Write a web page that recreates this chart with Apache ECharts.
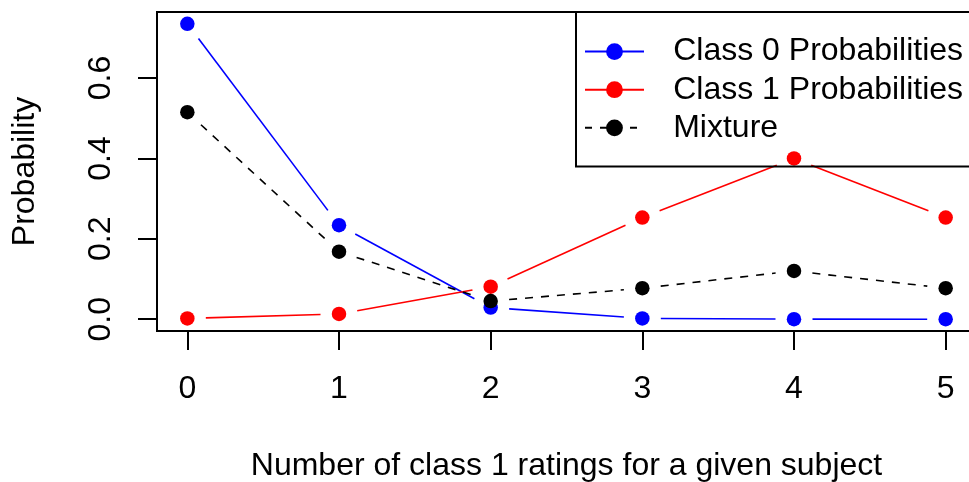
<!DOCTYPE html>
<html lang="en">

<head>
  <script src="https://cdn.jsdelivr.net/npm/echarts@6/dist/echarts.min.js"></script>
</head>

<body style="margin:0;background:#fff;">
  <div id="mixtureChart" style="width: 969px;height:482px;"></div>

  <script type="text/javascript">

    // number of class 1 ratings (x) and the three probability curves
    var ratings = [0, 1, 2, 3, 4, 5];
    var class0 = [0.735, 0.234, 0.029, 0.002, 0.0001, 0.0];
    var class1 = [0.002, 0.013, 0.081, 0.253, 0.400, 0.253];
    var mixture = [0.515, 0.168, 0.045, 0.077, 0.120, 0.077];
    var xTicks = [0, 1, 2, 3, 4, 5];
    var yTicks = [0, 0.2, 0.4, 0.6];

    var FONT = 'Liberation Sans';
    var FS = 32;
    var GAP = 18.5; // R type="b": lines stop short of the points

    function pairs(vals) {
        var out = [];
        for (var i = 0; i < ratings.length - 1; i++) {
            out.push([ratings[i], vals[i], ratings[i + 1], vals[i + 1]]);
        }
        return out;
    }

    function segmentSeries(name, vals, color, dash) {
        return {
            name: name + ' seg',
            type: 'custom',
            data: pairs(vals),
            encode: { x: [0, 2], y: [1, 3] },
            silent: true,
            renderItem: function (params, api) {
                var a = api.coord([api.value(0), api.value(1)]);
                var b = api.coord([api.value(2), api.value(3)]);
                var dx = b[0] - a[0], dy = b[1] - a[1];
                var len = Math.sqrt(dx * dx + dy * dy);
                var g = GAP / len;
                return {
                    type: 'line',
                    shape: {
                        x1: a[0] + dx * g, y1: a[1] + dy * g,
                        x2: b[0] - dx * g, y2: b[1] - dy * g
                    },
                    style: { stroke: color, lineWidth: 1.6, lineDash: dash ? [8, 8] : null }
                };
            }
        };
    }

    function pointSeries(name, vals, color) {
        return {
            name: name,
            type: 'line',
            data: ratings.map(function (x, i) { return [x, vals[i]]; }),
            symbol: 'circle',
            symbolSize: 14.5,
            itemStyle: { color: color },
            lineStyle: { opacity: 0 },
            silent: true,
            animation: false
        };
    }

    function createMixtureChart() {
        const chart = echarts.init(document.getElementById('mixtureChart'));

        var option = {
            animation: false,
            grid: {
                left: 157, top: 12, right: -7, bottom: 151,
                show: true, borderColor: '#000', borderWidth: 2,
                containLabel: false,
                outerBoundsMode: 'none'
            },
            legend: {
                orient: 'vertical',
                left: 576, top: 12,
                padding: [12, 40, 11, 8],
                itemGap: -17,
                itemWidth: 59, itemHeight: 21,
                borderColor: '#000', borderWidth: 2,
                textStyle: {
                    fontFamily: FONT, fontSize: FS, color: '#000'
                },
                formatter: function (name) { return '  \u2009' + name; },
                itemStyle: { borderWidth: 0 },
                data: [
                    { name: 'Class 0 Probabilities', lineStyle: { color: '#0000ff', width: 2, opacity: 1, type: 'solid' } },
                    { name: 'Class 1 Probabilities', lineStyle: { color: '#ff0000', width: 2, opacity: 1, type: 'solid' } },
                    { name: 'Mixture', lineStyle: { color: '#000', width: 2, opacity: 1, type: [7, 8] } }
                ]
            },
            xAxis: {
                type: 'value',
                min: -0.2, max: 5.2,
                name: 'Number of class 1 ratings for a given subject',
                nameLocation: 'middle',
                nameGap: 108,
                nameTextStyle: { fontFamily: FONT, fontSize: FS, color: '#000' },
                axisLine: { show: false, onZero: false },
                splitLine: { show: false },
                axisTick: {
                    show: true, length: 19, inside: false, customValues: xTicks,
                    lineStyle: { color: '#000', width: 2 }
                },
                axisLabel: {
                    customValues: xTicks, margin: 31,
                    fontFamily: FONT, fontSize: FS, color: '#000'
                }
            },
            yAxis: {
                type: 'value',
                min: -0.0294, max: 0.7644,
                name: 'Probability',
                nameLocation: 'middle',
                nameRotate: 90,
                nameGap: 104,
                nameTextStyle: { fontFamily: FONT, fontSize: FS, color: '#000' },
                axisLine: { show: false, onZero: false },
                splitLine: { show: false },
                axisTick: {
                    show: true, length: 19, inside: false, customValues: yTicks,
                    lineStyle: { color: '#000', width: 2 }
                },
                axisLabel: {
                    customValues: yTicks, margin: 28, rotate: 90,
                    fontFamily: FONT, fontSize: FS, color: '#000',
                    formatter: function (v) { return v.toFixed(1); }
                }
            },
            series: [
                segmentSeries('Class 0 Probabilities', class0, '#0000ff', false),
                pointSeries('Class 0 Probabilities', class0, '#0000ff'),
                segmentSeries('Class 1 Probabilities', class1, '#ff0000', false),
                pointSeries('Class 1 Probabilities', class1, '#ff0000'),
                segmentSeries('Mixture', mixture, '#000000', true),
                pointSeries('Mixture', mixture, '#000000')
            ]
        };

        chart.setOption(option);
    }
    createMixtureChart();
  </script>
</body>

</html>
